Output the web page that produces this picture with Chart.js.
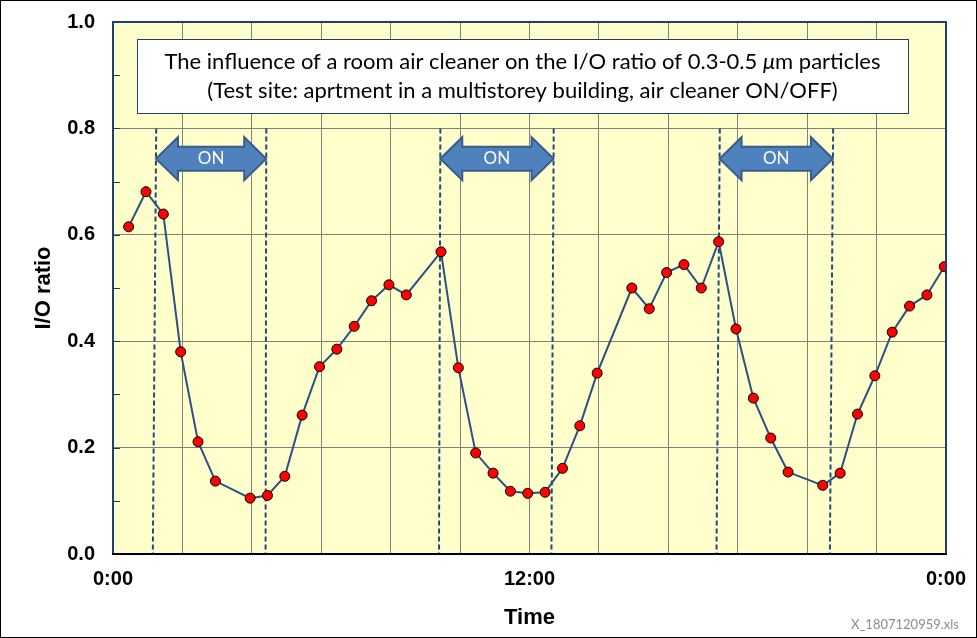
<!DOCTYPE html>
<html>
<head>
<meta charset="utf-8">
<title>I/O ratio - room air cleaner</title>
<script src="https://cdn.jsdelivr.net/npm/chart.js@4.4.1/dist/chart.umd.min.js"></script>
<style>
    html, body { margin: 0; padding: 0; background: #ffffff; }
    #wrap { width: 977px; height: 638px; position: relative; }
</style>
</head>
<body>
<div id="wrap"><canvas id="ioChart"></canvas></div>
<script>
// Measurement times (hours after 0:00) and the I/O ratio read at each one
const hours = [
    0.45, 0.95, 1.45, 1.95, 2.45, 2.95, 3.95, 4.45, 4.95, 5.45, 5.95,
    6.45, 6.95, 7.45, 7.95, 8.45, 9.45, 9.95, 10.45, 10.95, 11.45, 11.95,
    12.45, 12.95, 13.45, 13.95, 14.95, 15.45, 15.95, 16.45, 16.95, 17.45,
    17.95, 18.45, 18.95, 19.45, 20.45, 20.95, 21.45, 21.95, 22.45, 22.95,
    23.45, 23.95
];
const ioRatio = [
    0.615, 0.681, 0.639, 0.380, 0.211, 0.137, 0.105, 0.110, 0.146, 0.261, 0.352,
    0.385, 0.428, 0.476, 0.506, 0.487, 0.568, 0.350, 0.190, 0.152, 0.118, 0.114,
    0.116, 0.161, 0.241, 0.340, 0.500, 0.461, 0.529, 0.544, 0.500, 0.587,
    0.423, 0.293, 0.218, 0.154, 0.129, 0.152, 0.263, 0.335, 0.417, 0.466,
    0.487, 0.540
];

// Air cleaner ON periods: dashed markers (hour at the upper and lower end)
const onStartTop = [1.245, 9.432, 17.483];
const onStartBottom = [1.147, 9.392, 17.388];
const onEndTop = [4.416, 12.698, 20.749];
const onEndBottom = [4.396, 12.632, 20.654];
const onLineTop = 0.8;
const onLabel = 'ON';

// Axis ticks
const xTickValues = [0, 12, 24];
const xTickLabels = ['0:00', '12:00', '0:00'];
const yTicks = [0, 0.2, 0.4, 0.6, 0.8, 1.0];
const yMinorTicks = [0.1, 0.2, 0.3, 0.4, 0.5, 0.6, 0.7, 0.8, 0.9];

const titleLine1 = ['The influence of a room air cleaner on the I/O ratio of 0.3-0.5 ', '\u03BC', 'm particles'];
const titleLine2 = '(Test site: aprtment in a multistorey building, air cleaner ON/OFF)';
const fileTag = 'X_1807120959.xls';

const axisFont = '"Liberation Sans", Arial, sans-serif';
const boxFont = 'Lato, "Open Sans", sans-serif';

// Background, frame, minor ticks and file tag
const framePlugin = {
    id: 'frame',
    beforeDraw(chart) {
        const { ctx, chartArea: a } = chart;
        ctx.save();
        ctx.fillStyle = '#ffffff';
        ctx.fillRect(0, 0, chart.width, chart.height);
        ctx.fillStyle = '#FFFFCC';
        ctx.fillRect(a.left, a.top, a.right - a.left, a.bottom - a.top);
        ctx.restore();
    },
    afterDraw(chart) {
        const { ctx, chartArea: a } = chart;
        const yScale = chart.scales.y;
        ctx.save();

        // minor ticks pointing into the plot
        ctx.strokeStyle = '#17375E';
        ctx.lineWidth = 1;
        yMinorTicks.forEach(v => {
            const y = Math.round(yScale.getPixelForValue(v)) + 0.5;
            ctx.beginPath();
            ctx.moveTo(a.left, y);
            ctx.lineTo(a.left + 7, y);
            ctx.stroke();
        });

        // plot frame
        ctx.lineWidth = 2;
        ctx.strokeStyle = '#1F3F6E';
        ctx.beginPath();
        ctx.moveTo(a.left, a.bottom);
        ctx.lineTo(a.left, a.top);
        ctx.lineTo(a.right, a.top);
        ctx.lineTo(a.right, a.bottom);
        ctx.stroke();
        ctx.strokeStyle = '#000000';
        ctx.beginPath();
        ctx.moveTo(a.left - 1, a.bottom);
        ctx.lineTo(a.right + 1, a.bottom);
        ctx.stroke();

        // outer border of the picture
        ctx.lineWidth = 1;
        ctx.strokeStyle = '#000000';
        ctx.strokeRect(0.5, 0.5, chart.width - 1, chart.height - 1);

        ctx.fillStyle = '#8C8C8C';
        ctx.font = '13px ' + boxFont;
        ctx.textAlign = 'right';
        ctx.textBaseline = 'alphabetic';
        ctx.fillText(fileTag, chart.width - 18, chart.height - 9);
        ctx.restore();
    }
};

// Title box and "ON" arrows
const notesPlugin = {
    id: 'notes',
    afterDatasetsDraw(chart) {
        const { ctx, chartArea: a } = chart;
        const xScale = chart.scales.x;
        const yScale = chart.scales.y;
        ctx.save();

        // title box
        const bx = a.left + 24, by = a.top + 17;
        const bw = a.right - 38 - bx, bh = 74;
        ctx.fillStyle = '#ffffff';
        ctx.fillRect(bx, by, bw, bh);
        ctx.strokeStyle = '#1F3F6E';
        ctx.lineWidth = 1;
        ctx.strokeRect(bx + 0.5, by + 0.5, bw, bh);

        const cx = bx + bw / 2;
        ctx.fillStyle = '#000000';
        ctx.textBaseline = 'middle';
        const normal = '22px ' + boxFont;
        const italic = 'italic 22px ' + boxFont;
        const fonts = [normal, italic, normal];
        let total = 0;
        const widths = titleLine1.map((t, i) => {
            ctx.font = fonts[i];
            const w = ctx.measureText(t).width;
            total += w;
            return w;
        });
        let tx = cx - total / 2;
        ctx.textAlign = 'left';
        titleLine1.forEach((t, i) => {
            ctx.font = fonts[i];
            ctx.fillText(t, tx, by + 23);
            tx += widths[i];
        });
        ctx.font = normal;
        ctx.textAlign = 'center';
        ctx.fillText(titleLine2, cx, by + 52);

        // double arrows between the dashed markers
        const level = 0.743;
        const yc = yScale.getPixelForValue(level);
        const k = level / onLineTop;
        for (let i = 0; i < onStartTop.length; i++) {
            const x1 = xScale.getPixelForValue(onStartBottom[i] + (onStartTop[i] - onStartBottom[i]) * k);
            const x2 = xScale.getPixelForValue(onEndBottom[i] + (onEndTop[i] - onEndBottom[i]) * k);
            drawDoubleArrow(ctx, x1, x2, yc);
            ctx.fillStyle = '#ffffff';
            ctx.font = '17px ' + boxFont;
            ctx.textAlign = 'center';
            ctx.textBaseline = 'middle';
            ctx.fillText(onLabel, (x1 + x2) / 2, yc);
        }
        ctx.restore();
    }
};

function drawDoubleArrow(ctx, x1, x2, yc) {
    const head = 22, headH = 43, shaftH = 24;
    ctx.beginPath();
    ctx.moveTo(x1, yc);
    ctx.lineTo(x1 + head, yc - headH / 2);
    ctx.lineTo(x1 + head, yc - shaftH / 2);
    ctx.lineTo(x2 - head, yc - shaftH / 2);
    ctx.lineTo(x2 - head, yc - headH / 2);
    ctx.lineTo(x2, yc);
    ctx.lineTo(x2 - head, yc + headH / 2);
    ctx.lineTo(x2 - head, yc + shaftH / 2);
    ctx.lineTo(x1 + head, yc + shaftH / 2);
    ctx.lineTo(x1 + head, yc + headH / 2);
    ctx.closePath();
    ctx.fillStyle = '#4F81BD';
    ctx.fill();
    ctx.strokeStyle = '#385D8A';
    ctx.lineWidth = 2;
    ctx.stroke();
}

document.addEventListener('DOMContentLoaded', function() {
    const datasets = [{
        label: 'I/O ratio',
        data: hours.map((h, i) => ({ x: h, y: ioRatio[i] })),
        borderColor: '#2B5082',
        borderWidth: 2,
        pointRadius: 5,
        pointBackgroundColor: '#FF0000',
        pointBorderColor: '#000000',
        pointBorderWidth: 1,
        tension: 0,
        order: 0
    }];

    // dashed markers at start and end of each ON period
    for (let i = 0; i < onStartTop.length; i++) {
        [[onStartTop[i], onStartBottom[i]], [onEndTop[i], onEndBottom[i]]].forEach(pair => {
            datasets.push({
                label: 'ON marker',
                data: [{ x: pair[0], y: onLineTop }, { x: pair[1], y: 0 }],
                borderColor: '#1F497D',
                borderWidth: 2,
                borderDash: [5, 3],
                pointRadius: 0,
                order: 1
            });
        });
    }

    new Chart(document.getElementById('ioChart'), {
        type: 'line',
        data: { datasets: datasets },
        options: {
            responsive: true,
            maintainAspectRatio: false,
            animation: false,
            devicePixelRatio: 1,
            layout: { padding: { top: 22, right: 31, left: 0, bottom: 0 } },
            plugins: {
                legend: { display: false },
                tooltip: { enabled: false }
            },
            scales: {
                x: {
                    type: 'linear',
                    min: 0,
                    max: 24,
                    afterFit: function(scale) { scale.height = 84; },
                    // invisible tick marks only push the labels away from the axis
                    grid: { color: '#808080', lineWidth: 1, drawTicks: true, tickLength: 10, tickColor: 'rgba(0,0,0,0)' },
                    border: { display: false },
                    ticks: {
                        stepSize: 2,
                        autoSkip: false,
                        maxRotation: 0,
                        padding: 3,
                        color: '#000000',
                        font: { family: axisFont, size: 20, weight: 'bold' },
                        callback: function(value) {
                            const idx = xTickValues.indexOf(value);
                            return idx >= 0 ? xTickLabels[idx] : '';
                        }
                    },
                    title: {
                        display: true,
                        text: 'Time',
                        color: '#000000',
                        font: { family: axisFont, size: 22, weight: 'bold' },
                        padding: { top: 0, bottom: 7 }
                    }
                },
                y: {
                    min: 0,
                    max: 1,
                    afterFit: function(scale) { scale.width = 113; },
                    afterBuildTicks: function(scale) {
                        scale.ticks = yTicks.map(v => ({ value: v }));
                    },
                    grid: { color: '#808080', lineWidth: 1, drawTicks: true, tickLength: 15, tickColor: 'rgba(0,0,0,0)' },
                    border: { display: false },
                    ticks: {
                        padding: 3,
                        color: '#000000',
                        font: { family: axisFont, size: 20, weight: 'bold' },
                        callback: function(value) { return value.toFixed(1); }
                    },
                    title: {
                        display: true,
                        text: 'I/O ratio',
                        color: '#000000',
                        font: { family: axisFont, size: 22, weight: 'bold' },
                        padding: { top: 31, bottom: 0 }
                    }
                }
            }
        },
        plugins: [framePlugin, notesPlugin]
    });
});
</script>
</body>
</html>
